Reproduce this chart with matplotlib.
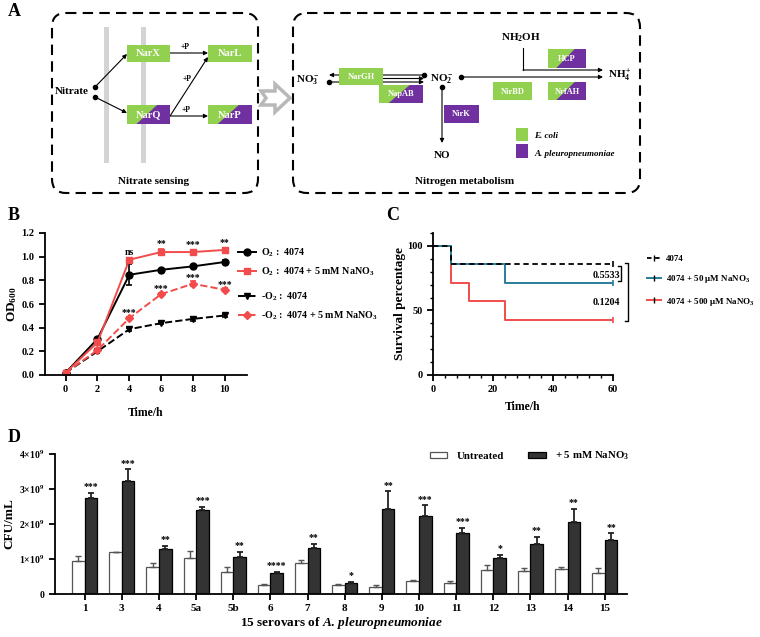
import matplotlib
matplotlib.use('Agg')
import matplotlib.pyplot as plt
import numpy as np
from matplotlib.patches import FancyBboxPatch, Rectangle, Polygon, Patch
from matplotlib.lines import Line2D
from matplotlib.ticker import MultipleLocator

plt.rcParams['font.family'] = ['Liberation Serif', 'DejaVu Serif']
plt.rcParams['font.weight'] = 'bold'
plt.rcParams['axes.labelweight'] = 'bold'
plt.rcParams['mathtext.fontset'] = 'custom'
plt.rcParams['mathtext.rm'] = 'Liberation Serif:bold'
plt.rcParams['mathtext.it'] = 'Liberation Serif:italic:bold'
plt.rcParams['mathtext.bf'] = 'Liberation Serif:bold'
plt.rcParams['mathtext.default'] = 'rm'

GREEN = '#92D050'
PURPLE = '#7030A0'
RED = '#F24B4B'
BLUE = '#2A7D9C'

# ---------------- Panel B data ----------------
time_h = [0, 2, 4, 6, 8, 10]
od_o2 = [0.02, 0.305, 0.847, 0.889, 0.918, 0.955]
od_o2_err = [0.005, 0.01, 0.09, 0.01, 0.012, 0.02]
od_o2_no3 = [0.02, 0.275, 0.974, 1.039, 1.039, 1.057]
od_o2_no3_err = [0.005, 0.01, 0.01, 0.025, 0.012, 0.01]
od_an = [0.02, 0.20, 0.387, 0.438, 0.474, 0.503]
od_an_err = [0.005, 0.01, 0.012, 0.01, 0.015, 0.015]
od_an_no3 = [0.02, 0.21, 0.48, 0.683, 0.771, 0.72]
od_an_no3_err = [0.005, 0.01, 0.01, 0.012, 0.02, 0.012]
sig_b_times = [4, 6, 8, 10]
sig_b_aer = ['ns', '**', '***', '**']
sig_b_an = ['***', '***', '***', '***']
legend_b = ['O$_2$ :  4074', 'O$_2$ :  4074 + 5 mM NaNO$_3$',
            '-O$_2$ :  4074', '-O$_2$ :  4074 + 5 mM NaNO$_3$']

# ---------------- Panel C data ----------------
km_time = [0, 6, 12, 24, 60]
km_ctrl = [100, 85.7, 85.7, 85.7, 85.7]
km_50 = [100, 85.7, 85.7, 71.4, 71.4]
km_500 = [100, 71.4, 57.1, 42.9, 42.9]
legend_c = ['4074', '4074 + 50 μM NaNO$_3$', '4074 + 500 μM NaNO$_3$']
pvals_c = ['0.5533', '0.1204']

# ---------------- Panel D data ----------------
serovars = ['1', '3', '4', '5a', '5b', '6', '7', '8', '9', '10', '11', '12', '13', '14', '15']
cfu_untreated = [0.95, 1.19, 0.78, 1.04, 0.64, 0.27, 0.89, 0.27, 0.21, 0.37, 0.31, 0.68, 0.67, 0.72, 0.61]
cfu_untreated_err = [0.15, 0.02, 0.10, 0.18, 0.12, 0.015, 0.08, 0.015, 0.04, 0.04, 0.05, 0.14, 0.08, 0.06, 0.13]
cfu_nitrate = [2.73, 3.22, 1.30, 2.40, 1.05, 0.59, 1.31, 0.31, 2.43, 2.24, 1.73, 1.03, 1.42, 2.06, 1.55]
cfu_nitrate_err = [0.15, 0.34, 0.08, 0.10, 0.14, 0.04, 0.13, 0.03, 0.50, 0.29, 0.17, 0.09, 0.22, 0.36, 0.18]
sig_d = ['***', '***', '**', '***', '**', '****', '**', '*', '**', '***', '***', '*', '**', '**', '**']
d_yticks = [0, 1, 2, 3, 4]
d_yticklabels = ['0', '1×10$^9$', '2×10$^9$', '3×10$^9$', '4×10$^9$']

W, H = 760, 637
fig = plt.figure(figsize=(W / 100, H / 100), dpi=100)


def pax(x0, y0, x1, y1):
    return fig.add_axes([x0 / W, 1 - y1 / H, (x1 - x0) / W, (y1 - y0) / H])


def style_axes(ax):
    for s in ['top', 'right']:
        ax.spines[s].set_visible(False)
    for s in ['left', 'bottom']:
        ax.spines[s].set_linewidth(1.3)
    ax.tick_params(which='major', direction='out', length=4, width=1.3, labelsize=7.5)
    ax.tick_params(which='minor', direction='out', length=2.5, width=1.0)
    for lab in ax.get_xticklabels() + ax.get_yticklabels():
        lab.set_fontweight('bold')


# ================= Panel B =================
axB = pax(45, 233, 247, 375)
kw = dict(lw=1.4, ms=5, capsize=2.5, elinewidth=1.2, capthick=1.2)
axB.errorbar(time_h, od_an, yerr=od_an_err, color='black', ls='--', marker='v', **kw)
axB.errorbar(time_h, od_an_no3, yerr=od_an_no3_err, color=RED, ls='--', marker='D', **{**kw, 'ms': 4})
axB.errorbar(time_h, od_o2, yerr=od_o2_err, color='black', ls='-', marker='o', **kw)
axB.errorbar(time_h, od_o2_no3, yerr=od_o2_no3_err, color=RED, ls='-', marker='s', **kw)
axB.set_xlim(-1.3, 11.4)
axB.set_ylim(0, 1.2)
axB.set_xticks(time_h)
axB.set_yticks(np.arange(0, 1.21, 0.2))
axB.set_yticklabels([f'{v:.1f}' for v in np.arange(0, 1.21, 0.2)])
style_axes(axB)
axB.set_ylabel('OD$_{600}$', fontsize=9.5, labelpad=2)
axB.set_xlabel('Time/h', fontsize=8.5, labelpad=9)
aer_top = [max(a + ae, b + be) for a, ae, b, be in zip(od_o2, od_o2_err, od_o2_no3, od_o2_no3_err)]
an_top = [b + be for b, be in zip(od_an_no3, od_an_no3_err)]
for t, s in zip(sig_b_times, sig_b_aer):
    i = time_h.index(t)
    axB.text(t, aer_top[i] + 0.03, s, ha='center', va='baseline', fontsize=7, fontweight='bold')
for t, s in zip(sig_b_times, sig_b_an):
    i = time_h.index(t)
    axB.text(t, an_top[i] + 0.015, s, ha='center', va='baseline', fontsize=7, fontweight='bold')

hb = [Line2D([], [], color='black', ls='-', marker='o', lw=1.4, ms=5),
      Line2D([], [], color=RED, ls='-', marker='s', lw=1.4, ms=5),
      Line2D([], [], color='black', ls='--', marker='v', lw=1.4, ms=5),
      Line2D([], [], color=RED, ls='--', marker='D', lw=1.4, ms=4)]
legkw = dict(frameon=False, fontsize=7.2, handlelength=1.8, handletextpad=0.5,
             borderpad=0, borderaxespad=0, labelspacing=0.65)
fig.legend(hb[:2], legend_b[:2], loc='center left', bbox_to_anchor=(238 / W, 1 - 262.5 / H), **legkw)
fig.legend(hb[2:], legend_b[2:], loc='center left', bbox_to_anchor=(238 / W, 1 - 306.5 / H), **legkw)

# ================= Panel C =================
axC = pax(433, 233, 613, 375)
axC.plot(km_time, km_500, drawstyle='steps-post', color=RED, lw=1.4)
axC.plot(km_time, km_50, drawstyle='steps-post', color=BLUE, lw=1.4)
axC.plot(km_time, km_ctrl, drawstyle='steps-post', color='black', lw=1.3, ls=(0, (3, 2)))
for series, col in [(km_500, RED), (km_50, BLUE), (km_ctrl, 'black')]:
    axC.plot([km_time[-1]], [series[-1]], marker='|', color=col, ms=5, mew=1.2)
axC.set_xlim(0, 60)
axC.set_ylim(0, 110)
axC.set_xticks([0, 20, 40, 60])
axC.set_yticks([0, 50, 100])
axC.xaxis.set_minor_locator(MultipleLocator(4))
axC.yaxis.set_minor_locator(MultipleLocator(10))
style_axes(axC)
axC.set_ylabel('Survival percentage', fontsize=9.5, labelpad=1)
axC.set_xlabel('Time/h', fontsize=8.5, labelpad=5)


def bracket(ax, x, y0, y1, stub):
    ax.plot([x - stub, x, x, x - stub], [y0, y0, y1, y1], color='black', lw=1.0, clip_on=False)


bracket(axC, 62.8, km_ctrl[-1] - 1.5, km_50[-1] + 1.5, 1.0)
bracket(axC, 65.0, km_ctrl[-1] + 1.2, km_500[-1] - 1.2, 1.0)
axC.text(62.3, (km_ctrl[-1] + km_50[-1]) / 2 - 1.5, pvals_c[0], ha='right', va='center', fontsize=7.2,
         fontweight='bold', clip_on=False)
axC.text(62.3, 56.5, pvals_c[1], ha='right', va='center', fontsize=7.2, fontweight='bold', clip_on=False)
hc = [Line2D([], [], color='black', ls=(0, (2.5, 2)), lw=1.3, marker='|', ms=4),
      Line2D([], [], color=BLUE, lw=1.4, marker='|', ms=4, mec='black'),
      Line2D([], [], color=RED, lw=1.4, marker='|', ms=4, mec='black')]
fig.legend(hc, legend_c, loc='center left', bbox_to_anchor=(647 / W, 1 - 281 / H), frameon=False,
           fontsize=6.5, handlelength=1.5, handletextpad=0.6, borderpad=0, borderaxespad=0, labelspacing=1.15)

# ================= Panel D =================
axD = pax(55, 454, 627, 594)
xd = np.arange(len(serovars))
bw = 0.34
axD.bar(xd - bw / 2, cfu_untreated, bw, color='white', edgecolor='#555555', lw=0.9,
        yerr=[np.zeros(len(xd)), cfu_untreated_err], capsize=2.5,
        error_kw=dict(elinewidth=1.0, capthick=1.0, ecolor='#555555'))
axD.bar(xd + bw / 2, cfu_nitrate, bw, color='#333333', edgecolor='black', lw=0.9,
        yerr=[np.zeros(len(xd)), cfu_nitrate_err], capsize=2.5,
        error_kw=dict(elinewidth=1.3, capthick=1.3, ecolor='#222222'))
for xi, v, e, s in zip(xd, cfu_nitrate, cfu_nitrate_err, sig_d):
    axD.text(xi + bw / 2, v + e + 0.11, s, ha='center', va='baseline', fontsize=7, fontweight='bold')
axD.set_xlim(-0.8, 14.6)
axD.set_ylim(0, 4)
axD.set_xticks(xd)
axD.set_xticklabels(serovars)
axD.set_yticks(d_yticks)
axD.set_yticklabels(d_yticklabels)
style_axes(axD)
axD.tick_params(axis='x', labelsize=8)
axD.tick_params(axis='y', labelsize=7)
axD.set_ylabel('CFU/mL', fontsize=9.5, labelpad=3)
axD.set_xlabel('15 serovars of $\\mathit{A.}\\,\\mathit{pleuropneumoniae}$', fontsize=9.5, labelpad=1)
hd = [Patch(facecolor='white', edgecolor='#555555', lw=0.9), Patch(facecolor='#333333', edgecolor='black', lw=0.9)]
fig.legend(hd, ['Untreated', '+ 5 mM NaNO$_3$'], loc='center left', bbox_to_anchor=(430 / W, 1 - 456 / H),
           ncol=2, frameon=False, fontsize=7.8, handlelength=1.6, handleheight=0.55, handletextpad=0.9,
           columnspacing=2.2, borderpad=0, borderaxespad=0)

# ================= Panel A (schematic) =================
ov = fig.add_axes([0, 0, 1, 1], zorder=5)
ov.set_xlim(0, W)
ov.set_ylim(H, 0)
ov.axis('off')
ov.patch.set_alpha(0)

for x0, x1 in [(52, 258), (293, 640)]:
    ov.add_patch(FancyBboxPatch((x0, 13), x1 - x0, 180, boxstyle='round,pad=0,rounding_size=14',
                                fc='none', ec='black', lw=1.5, ls=(0, (5, 3))))

# membrane bars
for xb in [106, 143]:
    ov.add_patch(Rectangle((xb - 2.5, 27), 5, 136, fc='#D3D3D3', ec='none', zorder=1))


def arrow(p0, p1, lw=0.8):
    ov.annotate('', xy=p1, xytext=p0,
                arrowprops=dict(arrowstyle='-|>', lw=lw, color='black', mutation_scale=6,
                                shrinkA=0, shrinkB=0), zorder=2)


def dot(x, y):
    ov.plot([x], [y], 'o', color='black', ms=3, zorder=3)


def gbox(x0, y0, x1, y1, label, kind, fs):
    w = x1 - x0
    col = GREEN if kind != 'p' else PURPLE
    ov.add_patch(Rectangle((x0, y0), w, y1 - y0, fc=col, ec='none', zorder=4))
    if kind == 's':
        ov.add_patch(Polygon([(x0 + 0.22 * w, y1), (x0 + 0.7 * w, y0), (x1, y0), (x1, y1)],
                             closed=True, fc=PURPLE, ec='none', zorder=4))
    ov.text((x0 + x1) / 2, (y0 + y1) / 2 + 0.5, label, color='white', ha='center', va='center',
            fontsize=fs, fontweight='bold', zorder=5)


# left schematic
ov.text(55, 91, 'Nitrate', ha='left', va='center', fontsize=8)
dot(95, 87)
dot(95, 97)
arrow((95, 87), (127, 54))
arrow((95, 97), (127, 113))
arrow((170, 53), (208, 53))
arrow((170, 116), (208, 57))
arrow((170, 116), (208, 116))
for (tx, ty) in [(185, 47), (187, 79), (186, 110)]:
    ov.text(tx, ty, '+P', ha='center', va='center', fontsize=5.5)
gbox(127, 45, 170, 62, 'NarX', 'g', 7.5)
gbox(208, 45, 252, 62, 'NarL', 'g', 7.5)
gbox(127, 105, 170, 124, 'NarQ', 's', 7.5)
gbox(208, 105, 252, 124, 'NarP', 's', 7.5)
ov.text(154, 182, 'Nitrate sensing', ha='center', va='center', fontsize=8)

# hollow arrow between boxes
ov.add_patch(Polygon([(261, 91), (275, 91), (275, 84), (290, 98), (275, 112), (275, 105), (261, 105), (266, 98)],
                     closed=True, fc='white', ec='#B8B8B8', lw=2.5, joinstyle='miter'))

# right schematic
ov.text(296, 80, 'NO$_3^-$', ha='left', va='center', fontsize=8)
arrow((424, 75), (329, 75))
dot(424, 75)
arrow((383, 78.5), (424, 78.5))
arrow((329, 82), (424, 82))
dot(329, 82)
gbox(339, 68, 383, 85, 'NarGH', 'g', 6)
gbox(379, 85, 423, 103, 'NapAB', 's', 6)
ov.text(430, 79, 'NO$_2^-$', ha='left', va='center', fontsize=8)
dot(461, 77)
arrow((461, 77), (603, 77))
ov.text(521, 38, 'NH$_2$OH', ha='center', va='center', fontsize=8)
ov.plot([523, 523], [48, 70], color='black', lw=0.8, zorder=2)
arrow((523, 70), (603, 70))
ov.text(608, 75, 'NH$_4^+$', ha='left', va='center', fontsize=8)
gbox(548, 49, 586, 68, 'HCP', 's', 6)
gbox(493, 82, 532, 100, 'NirBD', 'g', 6)
gbox(548, 82, 586, 100, 'NrfAH', 's', 6)
dot(442, 87)
arrow((442, 87), (442, 143))
ov.text(442, 155, 'NO', ha='center', va='center', fontsize=8)
gbox(444, 105, 479, 123, 'NirK', 'p', 6)
ov.add_patch(Rectangle((516, 128), 12, 13, fc=GREEN, ec='none'))
ov.add_patch(Rectangle((516, 144), 12, 14, fc=PURPLE, ec='none'))
ov.text(534, 136, 'E. coli', ha='left', va='center', fontsize=6.5, style='italic')
ov.text(534, 154, 'A. pleuropneumoniae', ha='left', va='center', fontsize=6.5, style='italic')
ov.text(465, 182, 'Nitrogen metabolism', ha='center', va='center', fontsize=8)

# panel letters
for lab, (lx, ly) in {'A': (14, 11), 'B': (14, 215), 'C': (393, 215), 'D': (14, 437)}.items():
    ov.text(lx, ly, lab, ha='center', va='center', fontsize=13, fontweight='bold')

fig.savefig('out.png', dpi=100)
